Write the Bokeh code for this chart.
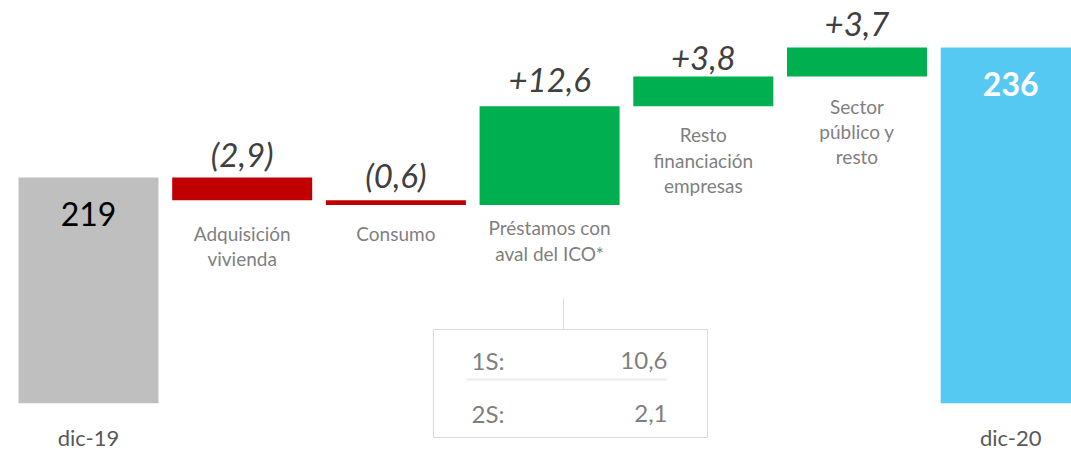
from bokeh.plotting import figure
from bokeh.models import Range1d
from bokeh.core.properties import value
from bokeh.embed import file_html
from bokeh.resources import INLINE

# ---------------- data ----------------
start_label = "dic-19"
end_label = "dic-20"
start_value = 219.0
end_value_text = "236"
step_labels = ["Adquisición\nvivienda", "Consumo", "Préstamos con\naval del ICO*",
               "Resto\nfinanciación\nempresas", "Sector\npúblico y\nresto"]
step_deltas = [-2.9, -0.6, 12.6, 3.8, 3.7]
step_texts = ["(2,9)", "(0,6)", "+12,6", "+3,8", "+3,7"]
ico_halves = ["1S:", "2S:"]
ico_half_values = ["10,6", "2,1"]
axis_floor = 190.2   # broken-axis baseline of the total bars

# ---------------- style / layout ----------------
FONT = value("Lato")
GRAY_BAR = "#bfbfbf"
RED = "#c00000"
GREEN = "#00b050"
BLUE = "#56c9f3"
VAL_COLOR = "#404040"
LAB_COLOR = "#7f7f7f"

W, H = 1071, 451
X0, X1 = -0.5725, 6.3956
Y0, Y1 = 184.05, 241.58
BAR_W = 0.911

def X(px):
    return X0 + px / W * (X1 - X0)

def Y(py):
    return Y1 - py / H * (Y1 - Y0)

p = figure(width=W, height=H, output_backend="svg", toolbar_location=None,
           x_range=Range1d(X0, X1), y_range=Range1d(Y0, Y1), min_border=0)
p.axis.visible = False
p.grid.visible = False
p.outline_line_color = None
p.background_fill_color = "white"
p.border_fill_color = "white"

# ---------------- bars ----------------
n = len(step_deltas)
xs = list(range(n + 2))
cum = [start_value]
for d in step_deltas:
    cum.append(cum[-1] + d)
end_value = cum[-1]

step_bottom = [min(cum[i], cum[i + 1]) for i in range(n)]
step_top = [max(cum[i], cum[i + 1]) for i in range(n)]
step_colors = [RED if d < 0 else GREEN for d in step_deltas]
step_x = xs[1:-1]

p.vbar(x=[xs[0]], width=BAR_W, bottom=axis_floor, top=[start_value],
       fill_color=GRAY_BAR, line_color=None)
p.vbar(x=[xs[-1]], width=BAR_W, bottom=axis_floor, top=[end_value],
       fill_color=BLUE, line_color=None)
p.vbar(x=step_x, width=BAR_W, bottom=step_bottom, top=step_top,
       fill_color=step_colors, line_color=None)

# ---------------- value labels ----------------
val_gap = [24, 25, 26, 18, 23]
for x, t, top, g in zip(step_x, step_texts, step_top, val_gap):
    p.text(x=[x], y=[top], text=[t], text_font=FONT, text_font_style="italic",
           text_font_size="33px", text_color=VAL_COLOR, text_align="center",
           text_baseline="middle", y_offset=-g)

p.text(x=[xs[0]], y=[start_value], text=[f"{start_value:.0f}"], text_font=FONT,
       text_font_size="32px", text_color="black", text_align="center",
       text_baseline="middle", y_offset=36)
p.text(x=[xs[-1]], y=[end_value], text=[end_value_text], text_font=FONT,
       text_font_style="bold", text_font_size="32px", text_color="white",
       text_align="center", text_baseline="middle", y_offset=37)

# ---------------- category labels ----------------
lab_gap = [45.5, 29, 35.5, 54, 55]
for x, t, b, g in zip(step_x, step_labels, step_bottom, lab_gap):
    p.text(x=[x], y=[b], text=[t], text_font=FONT, text_font_size="19px",
           text_color=LAB_COLOR, text_align="center", text_baseline="middle",
           text_line_height=1.1, y_offset=g)

for x, t in [(xs[0], start_label), (xs[-1], end_label)]:
    p.text(x=[x], y=[axis_floor], text=[t], text_font=FONT, text_font_size="22px",
           text_color="#595959", text_align="center", text_baseline="middle",
           y_offset=34)

# ---------------- ICO inset ----------------
p.quad(left=[X(433)], right=[X(707)], top=[Y(329)], bottom=[Y(437)],
       fill_color=None, line_color="#d9d9d9", line_width=1)
p.segment(x0=[X(563)], y0=[Y(298)], x1=[X(563)], y1=[Y(329)],
          line_color="#d9d9d9", line_width=1)
p.segment(x0=[X(466)], y0=[Y(379)], x1=[X(667)], y1=[Y(379)],
          line_color="#f0f0f0", line_width=2.5)
for py, h, v in zip([360, 413], ico_halves, ico_half_values):
    p.text(x=[X(471)], y=[Y(py)], text=[h], text_font=FONT, text_font_size="24px",
           text_color=LAB_COLOR, text_align="left", text_baseline="middle")
    p.text(x=[X(667)], y=[Y(py)], text=[v], text_font=FONT, text_font_size="24px",
           text_color=LAB_COLOR, text_align="right", text_baseline="middle")

open("out.html", "w").write(file_html(p, INLINE))
